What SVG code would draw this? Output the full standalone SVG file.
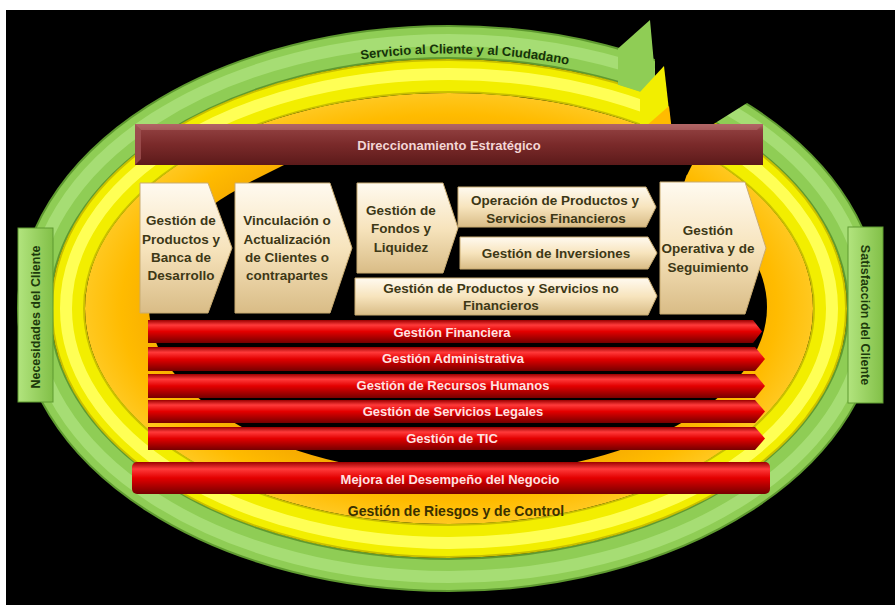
<svg xmlns="http://www.w3.org/2000/svg" width="895" height="605" viewBox="0 0 895 605">
<defs>
  <linearGradient id="beige" x1="0" y1="0" x2="0" y2="1">
    <stop offset="0" stop-color="#fffaf0"/>
    <stop offset="0.5" stop-color="#f7e4bd"/>
    <stop offset="1" stop-color="#d9bc86"/>
  </linearGradient>
  <linearGradient id="red" x1="0" y1="0" x2="0" y2="1">
    <stop offset="0" stop-color="#9a0000"/>
    <stop offset="0.22" stop-color="#ff3a3a"/>
    <stop offset="0.5" stop-color="#e30000"/>
    <stop offset="1" stop-color="#760000"/>
  </linearGradient>
  <linearGradient id="maroon" x1="0" y1="0" x2="0" y2="1">
    <stop offset="0" stop-color="#b46a6a"/>
    <stop offset="0.15" stop-color="#8e3d3d"/>
    <stop offset="0.5" stop-color="#7a2a2a"/>
    <stop offset="1" stop-color="#5c1a1a"/>
  </linearGradient>
  <linearGradient id="boxg" x1="0" y1="0" x2="1" y2="0">
    <stop offset="0" stop-color="#b2e47e"/>
    <stop offset="1" stop-color="#82c048"/>
  </linearGradient>
  <radialGradient id="orng" cx="0.5" cy="0.5" r="0.5">
    <stop offset="0.72" stop-color="#f2a400"/>
    <stop offset="0.9" stop-color="#ffbb00"/>
    <stop offset="1" stop-color="#ffc820"/>
  </radialGradient>
  <path id="arcPath" d="M 41,308.5 A 408,255 0 0 1 857,308.5" fill="none"/>
</defs>
<style>
  text { font-family: "Liberation Sans", Arial, sans-serif; font-weight: bold; text-anchor: middle; }
  .chev { font-size: 13.5px; fill: #3d3816; }
  .bar { font-size: 13px; fill: #ffe2e2; }
  .side { font-size: 12.5px; fill: #1d3a0c; }
  .ring { fill: none; }
  .cshape { fill: url(#beige); stroke: #c9ab70; stroke-width: 1; }
  .rshape { fill: url(#red); }
</style>

<rect x="0" y="0" width="895" height="605" fill="#ffffff"/>
<rect x="6" y="10" width="889" height="595" fill="#000000"/>

<g id="rings">
  <ellipse class="ring" cx="449" cy="308.5" rx="415" ry="266.5" stroke="#5f9a30" stroke-width="34"/>
  <ellipse class="ring" cx="449" cy="308.5" rx="415" ry="266.5" stroke="#8fcd55" stroke-width="30"/>
  <ellipse class="ring" cx="449" cy="308.5" rx="417" ry="268.5" stroke="#a6dd74" stroke-width="12"/>
  <ellipse cx="449" cy="308.5" rx="364" ry="215.5" fill="url(#orng)"/>
  <ellipse class="ring" cx="449" cy="308.5" rx="381" ry="232.5" stroke="#c9c000" stroke-width="34"/>
  <ellipse class="ring" cx="449" cy="308.5" rx="381" ry="232.5" stroke="#f2ee00" stroke-width="30"/>
  <ellipse class="ring" cx="449" cy="308.5" rx="383" ry="234.5" stroke="#ffff55" stroke-width="12"/>
  <ellipse cx="458" cy="307" rx="309" ry="168" fill="#000000"/>
  <polygon points="655,10 790,10 747,103 712,125 687,175 655,175" fill="#000000"/>
  <polygon points="284,165 690,165 684,183 248,183" fill="#000000"/>
  <polygon points="618,48.5 650,20 657,97 618,84.7" fill="#8fcd55"/>
  <polygon points="640,92 664,66 671,128 640,124.5" fill="#f2ee00"/>
  <polygon points="645,127 669,106 673,140 645,140" fill="#ffbb00"/>
  <text font-size="13px" fill="#16330a"><textPath href="#arcPath" startOffset="51.5%">Servicio al Cliente y al Ciudadano</textPath></text>
  <text x="456" y="516" font-size="14px" fill="#3a3000">Gestión de Riesgos y de Control</text>
</g>

<g id="necesidades">
  <rect x="18" y="228" width="35" height="174" fill="url(#boxg)" stroke="#5f9a30" stroke-width="1"/>
  <text class="side" transform="translate(40,317) rotate(-90)">Necesidades del Cliente</text>
</g>
<g id="satisfaccion">
  <rect x="848" y="227" width="35" height="176" fill="url(#boxg)" stroke="#5f9a30" stroke-width="1"/>
  <text class="side" transform="translate(861,315) rotate(90)">Satisfacción del Cliente</text>
</g>

<g id="direccionamiento">
  <rect x="135" y="124" width="628" height="41" fill="url(#maroon)"/>
  <polygon points="135,124 763,124 757,130 141,130" fill="#b06565" opacity="0.7"/>
  <polygon points="135,124 141,130 141,159 135,165" fill="#a05252" opacity="0.8"/>
  <text x="449" y="150" font-size="13px" fill="#f3d6d6">Direccionamiento Estratégico</text>
</g>

<g id="gestion-productos-banca">
  <polygon class="cshape" points="140,183 208,183 232,248 208,313 140,313"/>
  <text class="chev" x="181" y="225">Gestión de</text>
  <text class="chev" x="181" y="244">Productos y</text>
  <text class="chev" x="181" y="262">Banca de</text>
  <text class="chev" x="181" y="280">Desarrollo</text>
</g>
<g id="vinculacion">
  <polygon class="cshape" points="235,183 330,183 352,248 330,313 235,313"/>
  <text class="chev" x="287" y="225">Vinculación o</text>
  <text class="chev" x="287" y="244">Actualización</text>
  <text class="chev" x="287" y="262">de Clientes o</text>
  <text class="chev" x="287" y="280">contrapartes</text>
</g>
<g id="fondos-liquidez">
  <polygon class="cshape" points="357,183 443,183 458,228 443,273 357,273"/>
  <text class="chev" x="401" y="215">Gestión de</text>
  <text class="chev" x="401" y="233">Fondos y</text>
  <text class="chev" x="401" y="252">Liquidez</text>
</g>
<g id="operacion-productos">
  <polygon class="cshape" points="458,187 646,187 656,207 646,227 458,227"/>
  <text class="chev" x="555" y="205">Operación de Productos y</text>
  <text class="chev" x="556" y="223">Servicios Financieros</text>
</g>
<g id="inversiones">
  <polygon class="cshape" points="460,237 648,237 657,253 648,269 460,269"/>
  <text class="chev" x="556" y="258">Gestión de Inversiones</text>
</g>
<g id="productos-no-financieros">
  <polygon class="cshape" points="355,278 648,278 657,296 648,315 355,315"/>
  <text class="chev" x="501" y="293">Gestión de Productos y Servicios no</text>
  <text class="chev" x="501" y="310">Financieros</text>
</g>
<g id="operativa-seguimiento">
  <polygon class="cshape" points="660,182 745,182 766,248 745,314 660,314"/>
  <text class="chev" x="708" y="235">Gestión</text>
  <text class="chev" x="708" y="253">Operativa y de</text>
  <text class="chev" x="708" y="272">Seguimiento</text>
</g>

<g id="financiera">
  <polygon class="rshape" points="148,320 753,320 762,331.5 753,343 148,343"/>
  <text class="bar" x="452" y="336.5">Gestión Financiera</text>
</g>
<g id="administrativa">
  <polygon class="rshape" points="148,347 755,347 765,359 755,371 148,371"/>
  <text class="bar" x="453" y="362.5">Gestión Administrativa</text>
</g>
<g id="recursos-humanos">
  <polygon class="rshape" points="148,374 755,374 765,386 755,398 148,398"/>
  <text class="bar" x="453" y="389.5">Gestión de Recursos Humanos</text>
</g>
<g id="servicios-legales">
  <polygon class="rshape" points="148,400 755,400 765,411.5 755,423 148,423"/>
  <text class="bar" x="453" y="415.5">Gestión de Servicios Legales</text>
</g>
<g id="tic">
  <polygon class="rshape" points="148,427 755,427 765,438.5 755,450 148,450"/>
  <text class="bar" x="452" y="442.5">Gestión de TIC</text>
</g>
<g id="mejora">
  <rect x="132" y="462" width="638" height="32" rx="5" fill="url(#red)"/>
  <text class="bar" x="450" y="483.5">Mejora del Desempeño del Negocio</text>
</g>

<g id="connectors"></g>
</svg>
